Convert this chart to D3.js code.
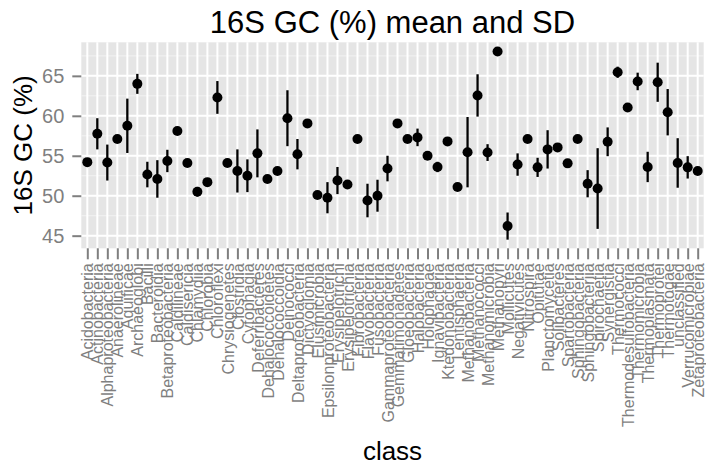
<!DOCTYPE html>
<html>
<head>
<meta charset="utf-8">
<script src="https://cdn.jsdelivr.net/npm/d3@7"></script>
<style>
  html, body { margin: 0; padding: 0; background: #ffffff; }
  svg { display: block; font-family: "Liberation Sans", Arial, Helvetica, sans-serif; }
</style>
</head>
<body>
<svg id="chart" width="706" height="470"></svg>
<script>
const categories = [
  "Acidobacteria","Actinobacteria","Alphaproteobacteria","Anaerolineae","Aquificae","Archaeoglobi",
  "Bacilli","Bacteroidia","Betaproteobacteria","Caldilineae","Caldisericia","Chlamydiia","Chlorobia",
  "Chloroflexi","Chrysiogenetes","Clostridia","Cytophagia","Deferribacteres","Dehalococcoidetes",
  "Dehalococcoidia","Deinococci","Deltaproteobacteria","Dictyoglomia","Elusimicrobia",
  "Epsilonproteobacteria","Erysipelotrichi","Erysipelotrichia","Fibrobacteria","Flavobacteria",
  "Fusobacteria","Gammaproteobacteria","Gemmatimonadetes","Gloeobacteria","Halobacteria","Holophagae",
  "Ignavibacteria","Ktedonobacteria","Lentisphaeria","Methanobacteria","Methanococci","Methanomicrobia",
  "Methanopyri","Mollicutes","Negativicutes","Nitrospira","Opitutae","Planctomycetia","Solibacteres",
  "Spartobacteria","Sphingobacteria","Sphingobacteriia","Spirochaetia","Synergistia","Thermococci",
  "Thermodesulfobacteria","Thermomicrobia","Thermoplasmata","Thermoprotei","Thermotogae","unclassified",
  "Verrucomicrobiae","Zetaproteobacteria"
];
const gcMean = [
  54.2, 57.75, 54.15, 57.1, 58.75, 64.0,
  52.65, 52.1, 54.35, 58.1, 54.1, 50.5, 51.7,
  62.3, 54.1, 53.1, 52.5, 55.3, 52.1,
  53.1, 59.7, 55.2, 59.05, 50.1,
  49.75, 51.9, 51.4, 57.1, 49.4,
  50.0, 53.4, 59.05, 57.1, 57.3, 55.0,
  53.6, 56.8, 51.1, 55.45, 62.55, 55.4,
  68.05, 46.2, 53.9, 57.1, 53.55, 55.8, 56.05,
  54.05, 57.1, 51.5, 50.9, 56.75, 65.45,
  61.05, 64.3, 53.6, 64.2, 60.45, 54.1,
  53.55, 53.1
];
const gcSD = [
  0, 1.95, 2.25, 0, 3.4, 1.25,
  1.6, 2.35, 1.4, 0, 0, 0.6, 0,
  2.05, 0, 2.7, 2.05, 3.0, 0,
  0, 3.5, 1.9, 0, 0,
  1.95, 1.7, 0, 0, 2.1,
  2.0, 1.6, 0, 0, 1.1, 0,
  0.65, 0, 0, 4.4, 2.65, 1.05,
  0, 1.7, 1.4, 0, 1.2, 2.4, 0,
  0, 0, 1.7, 5.05, 1.8, 0.7,
  0, 1.1, 1.9, 2.45, 2.9, 3.1,
  1.4, 0
];
const yTicks = [45, 50, 55, 60, 65];
const yMinor = [47.5, 52.5, 57.5, 62.5, 67.5];
const titleText = "16S GC (%) mean and SD";
const xTitle = "class";
const yTitle = "16S GC (%)";

const data = categories.map((c, i) => ({ cls: c, mean: gcMean[i], sd: gcSD[i] }));

const svg = d3.select("#chart");
const panel = { left: 81.3, right: 703.7, top: 42.3, bottom: 248.3 };

const x = d3.scalePoint().domain(categories).range([panel.left, panel.right]).padding(0.6);
const y = d3.scaleLinear().domain([43.42, 69.2]).range([panel.bottom, panel.top]);

// panel background
svg.append("rect")
  .attr("x", panel.left).attr("y", panel.top)
  .attr("width", panel.right - panel.left).attr("height", panel.bottom - panel.top)
  .attr("fill", "#E5E5E5");

// minor horizontal grid
svg.append("g").selectAll("line").data(yMinor.filter(v => y(v) >= panel.top && y(v) <= panel.bottom))
  .join("line")
  .attr("x1", panel.left).attr("x2", panel.right)
  .attr("y1", d => y(d)).attr("y2", d => y(d))
  .attr("stroke", "#F2F2F2").attr("stroke-width", 1);

// major horizontal grid
svg.append("g").selectAll("line").data(yTicks)
  .join("line")
  .attr("x1", panel.left).attr("x2", panel.right)
  .attr("y1", d => y(d)).attr("y2", d => y(d))
  .attr("stroke", "#FFFFFF").attr("stroke-width", 2);

// major vertical grid
svg.append("g").selectAll("line").data(categories)
  .join("line")
  .attr("x1", d => x(d)).attr("x2", d => x(d))
  .attr("y1", panel.top).attr("y2", panel.bottom)
  .attr("stroke", "#FFFFFF").attr("stroke-width", 2);

// error bars
svg.append("g").selectAll("line").data(data.filter(d => d.sd > 0))
  .join("line")
  .attr("x1", d => x(d.cls)).attr("x2", d => x(d.cls))
  .attr("y1", d => y(d.mean - d.sd)).attr("y2", d => y(d.mean + d.sd))
  .attr("stroke", "#000").attr("stroke-width", 2.3);

// points
svg.append("g").selectAll("circle").data(data)
  .join("circle")
  .attr("cx", d => x(d.cls)).attr("cy", d => y(d.mean))
  .attr("r", 5).attr("fill", "#000");

// y axis
const yAxis = svg.append("g")
  .attr("transform", `translate(${panel.left},0)`)
  .call(d3.axisLeft(y).tickValues(yTicks).tickSize(9).tickPadding(8).tickFormat(d3.format("d")));
yAxis.select(".domain").remove();
yAxis.selectAll(".tick line").attr("stroke", "#7F7F7F").attr("stroke-width", 2);
yAxis.selectAll(".tick text").attr("fill", "#7F7F7F").attr("font-size", 20)
  .attr("font-family", "Liberation Sans, Arial, sans-serif");

// x axis
const xAxis = svg.append("g")
  .attr("transform", `translate(0,${panel.bottom})`)
  .call(d3.axisBottom(x).tickSize(11).tickPadding(4));
xAxis.select(".domain").remove();
xAxis.selectAll(".tick line").attr("stroke", "#7F7F7F").attr("stroke-width", 2);
xAxis.selectAll(".tick text")
  .attr("fill", "#7F7F7F").attr("font-size", 16)
  .attr("font-family", "Liberation Sans, Arial, sans-serif")
  .attr("text-anchor", "end")
  .attr("transform", "rotate(-90)")
  .attr("x", -15).attr("y", 0).attr("dy", "0.35em");

// title
svg.append("text")
  .attr("x", (panel.left + panel.right) / 2).attr("y", 33)
  .attr("text-anchor", "middle").attr("font-size", 31).attr("fill", "#000")
  .text(titleText);

// x title
svg.append("text")
  .attr("x", (panel.left + panel.right) / 2).attr("y", 460)
  .attr("text-anchor", "middle").attr("font-size", 26).attr("fill", "#000")
  .text(xTitle);

// y title
svg.append("text")
  .attr("transform", `translate(32,${(panel.top + panel.bottom) / 2}) rotate(-90)`)
  .attr("text-anchor", "middle").attr("font-size", 26).attr("fill", "#000")
  .text(yTitle);
</script>
</body>
</html>
